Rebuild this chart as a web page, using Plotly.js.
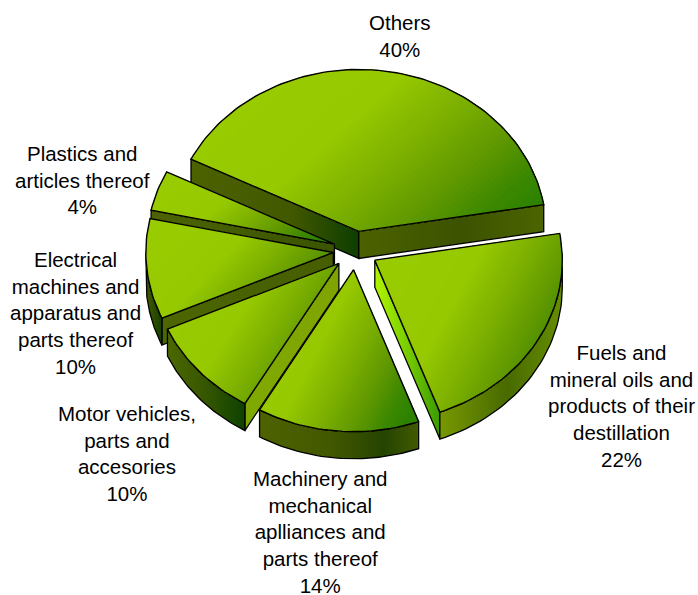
<!DOCTYPE html>
<html><head><meta charset="utf-8">
<script src="https://cdn.plot.ly/plotly-3.0.1.min.js"></script>
<style>html,body{margin:0;padding:0;background:#fff}</style></head>
<body><div id="chart" style="width:698px;height:595px"></div>
<script>
// ---- data ----
const categories = ["Others","Fuels and mineral oils and products of their destillation","Machinery and mechanical aplliances and parts thereof","Motor vehicles, parts and accesories","Electrical machines and apparatus and parts thereof","Plastics and articles thereof"];
const values = [40,22,14,10,10,4];
const labels = ["Others<br>40%","Fuels and<br>mineral oils and<br>products of their<br>destillation<br>22%","Machinery and<br>mechanical<br>aplliances and<br>parts thereof<br>14%","Motor vehicles,<br>parts and<br>accesories<br>10%","Electrical<br>machines and<br>apparatus and<br>parts thereof<br>10%","Plastics and<br>articles thereof<br>4%"];

// ---- layout constants ----
const labelX = [400,621,320,127,75,82];
const labelY = [36,405.5,532,453.5,312.5,179.5];
const CX=355.5, CY=250.5, RX=187.5, RY=162, DEPTH=27, PULL=0.119, START=-63.5;
const DRAW_ORDER=[0,5,4,3,1,2];
const BANDS=70;
const WEIGHT_X=0.66;
// wall gradients: [startEdge, endEdge, arc]
const wallStyles={
 0:{start:[[0,'#4c6200'],[0.6,'#425800'],[1,'#0c3e00']],end:[[0,'#4c6200'],[0.55,'#3c5200'],[1,'#4c6400']]},
 5:{start:[[0,'#4c6400'],[1,'#3a5400']],arc:[[0,'#4c6400'],[1,'#4c6400']]},
 4:{start:[[0,'#4c6600'],[1,'#465e00']],arc:[[0,'#425c00'],[1,'#173f00']]},
 3:{start:[[0,'#7fa900'],[1,'#7fa400']],arc:[[0,'#4c6800'],[0.5,'#365600'],[1,'#0d4200']]},
 1:{end:[[0,'#b2f500'],[0.5,'#78cc00'],[1,'#3a9a00']],arc:[[0,'#789800'],[0.55,'#486a00'],[1,'#668e00']]},
 2:{arc:[[0,'#4e6200'],[0.45,'#425800'],[0.78,'#244400'],[1,'#425a00']]}
};
const topStops=[[0,[153,204,0]],[0.4,[150,201,0]],[0.58,[122,174,0]],[0.72,[96,152,0]],[0.84,[60,136,0]],[0.92,[44,130,0]],[1,[50,125,0]]];

function rad(d){return d*Math.PI/180;}
function colorAt(t){
  for(let i=1;i<topStops.length;i++){
    if(t<=topStops[i][0]){
      const a=topStops[i-1],b=topStops[i],f=(t-a[0])/(b[0]-a[0]);
      return 'rgb('+a[1].map((v,j)=>Math.round(v+(b[1][j]-v)*f)).join(',')+')';
    }
  }
  return 'rgb('+topStops[topStops.length-1][1].join(',')+')';
}
function clip(poly,f,t0){
  const out=[];
  for(let i=0;i<poly.length;i++){
    const p=poly[i],q=poly[(i+1)%poly.length],a=f(p)-t0,b=f(q)-t0;
    if(a>=0)out.push(p);
    if((a>=0)!==(b>=0)){const s=a/(a-b);out.push([p[0]+(q[0]-p[0])*s,p[1]+(q[1]-p[1])*s]);}
  }
  return out;
}
const traces=[];
function closed(poly,i){const a=poly.map(p=>p[i]);a.push(poly[0][i]);return a;}
function fillTrace(poly,color){
  traces.push({type:'scatter',mode:'lines',x:closed(poly,0),y:closed(poly,1),fill:'toself',fillcolor:color,line:{width:0},hoverinfo:'skip',showlegend:false});
}
function gradTrace(poly,stops){
  const xs=poly.map(p=>p[0]);
  traces.push({type:'scatter',mode:'lines',x:closed(poly,0),y:closed(poly,1),fill:'toself',
    fillgradient:{type:'horizontal',colorscale:stops,start:Math.min(...xs),stop:Math.max(...xs)},
    line:{color:'#000',width:1.3},hoverinfo:'skip',showlegend:false});
}
function outline(poly){
  traces.push({type:'scatter',mode:'lines',x:closed(poly,0),y:closed(poly,1),line:{color:'#000',width:1.4},hoverinfo:'skip',showlegend:false});
}
const total=values.reduce((a,b)=>a+b,0);
const slices=[];let acc=START;
values.forEach(v=>{const s=acc,e=acc+v/total*360;slices.push([s,e]);acc=e;});

DRAW_ORDER.forEach(idx=>{
  const [a0,a1]=slices[idx],mid=rad((a0+a1)/2);
  const ax=CX+PULL*RX*Math.sin(mid),ay=CY-PULL*RY*Math.cos(mid);
  const pt=a=>[ax+RX*Math.sin(rad(a)),ay-RY*Math.cos(rad(a))];
  const st=wallStyles[idx];
  const down=p=>[p[0],p[1]+DEPTH];
  const radial=a=>{const p=pt(a);return [[ax,ay],p,down(p),[ax,ay+DEPTH]];};
  if(Math.sin(rad(a0))<0&&st.start)gradTrace(radial(a0),st.start);
  if(Math.sin(rad(a1))>0&&st.end)gradTrace(radial(a1),st.end);
  // outer arc wall: only the part facing the viewer
  const lo=Math.max(a0,90),hi=Math.min(a1,270);
  if(hi>lo&&st.arc){
    const up=[];for(let a=lo;a<=hi+1e-6;a+=(hi-lo)/40)up.push(pt(a));
    gradTrace(up.concat(up.slice().reverse().map(down)),st.arc);
  }
  // top face
  const poly=[[ax,ay]];
  const n=Math.ceil((a1-a0)/1.5);
  for(let i=0;i<=n;i++)poly.push(pt(a0+(a1-a0)*i/n));
  const xs=poly.map(p=>p[0]),ys=poly.map(p=>p[1]);
  const x0=Math.min(...xs),x1=Math.max(...xs),y0=Math.min(...ys),y1=Math.max(...ys);
  const f=p=>WEIGHT_X*(p[0]-x0)/(x1-x0)+(1-WEIGHT_X)*(p[1]-y0)/(y1-y0);
  fillTrace(poly,colorAt(0));
  for(let k=1;k<BANDS;k++){
    const t=k/BANDS,c=clip(poly,f,t);
    if(c.length>2)fillTrace(c,colorAt(t));
  }
  outline(poly);
});

const annotations=labels.map((t,i)=>({x:labelX[i],y:labelY[i],xref:'x',yref:'y',text:t,showarrow:false,align:'center',xanchor:'center',yanchor:'middle',font:{family:'"Liberation Sans",Arial,sans-serif',size:20.5,color:'#000'}}));

Plotly.newPlot('chart',traces,{
  width:698,height:595,margin:{l:0,r:0,t:0,b:0},paper_bgcolor:'#fff',plot_bgcolor:'#fff',showlegend:false,
  xaxis:{range:[0,698],visible:false,fixedrange:true},
  yaxis:{range:[595,0],visible:false,fixedrange:true},
  annotations
},{staticPlot:true,displayModeBar:false});
</script></body></html>
